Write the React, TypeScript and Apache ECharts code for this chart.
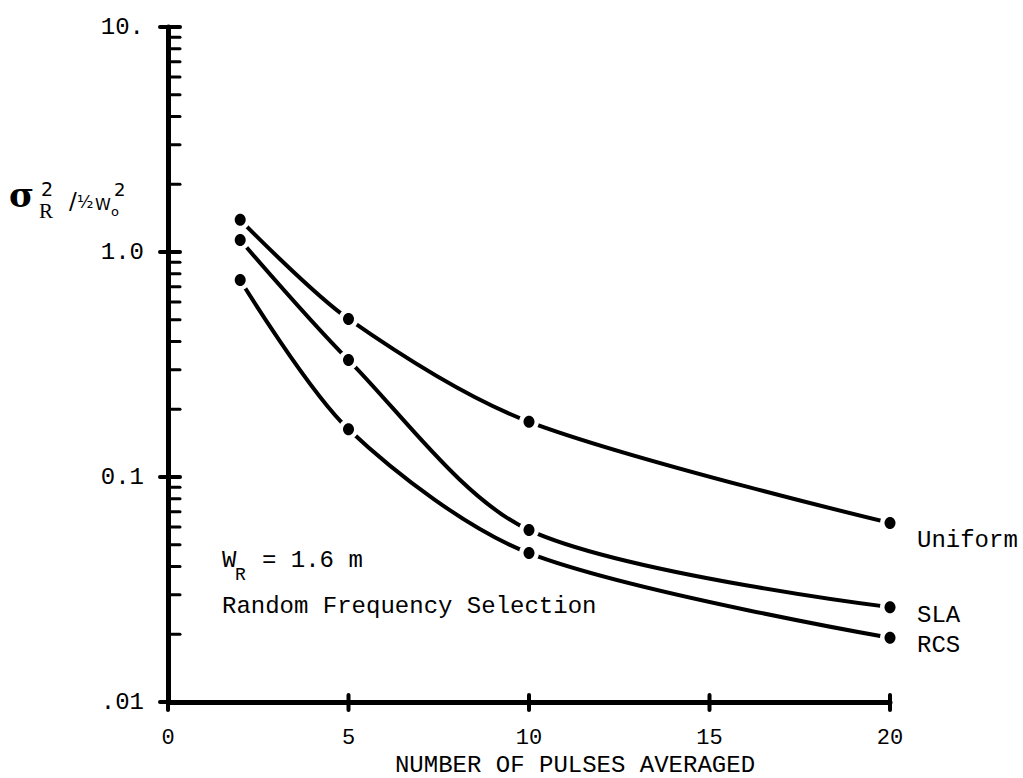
import React, { useEffect, useRef } from "react";
import * as echarts from "echarts";

// ---- data ----
const pulses = [2, 5, 10, 20];
const uniformValues = [1.39, 0.504, 0.176, 0.0625];
const slaValues = [1.13, 0.331, 0.0581, 0.0264];
const rcsValues = [0.751, 0.163, 0.0459, 0.0193];
const seriesNames = ["Uniform", "SLA", "RCS"];

// ---- axis structure ----
const xTickValues = [5, 10, 15, 20];
const yMajorValues = [0.01, 0.1, 1, 10];
const yTickLabels = [".01", "0.1", "1.0", "10."];
const minorMantissas = [2, 3, 4, 5, 6, 7, 8, 9];
const minorDecades = [0.01, 0.1, 1];

const MONO = "'Liberation Mono', 'DejaVu Sans Mono', monospace";

export default function App() {
  const ref = useRef<HTMLDivElement>(null);

  useEffect(() => {
    if (!ref.current) return;
    const chart = echarts.init(ref.current, undefined, { renderer: "svg" });

    const yMinorValues: number[] = [];
    minorDecades.forEach((d) => minorMantissas.forEach((m) => yMinorValues.push(m * d)));

    const allValues = [uniformValues, slaValues, rcsValues];
    const pairs = (vals: number[]) => pulses.map((x, j) => [x, vals[j]]);

    const lineSeries = allValues.map((vals, i) => ({
      type: "line",
      name: seriesNames[i],
      data: pairs(vals),
      smooth: 0.3,
      showSymbol: false,
      lineStyle: { color: "#000", width: 4 },
      z: 2,
      silent: true,
    }));

    // white halo + black dot, so the curve is cut around each point as in the original
    const dotSeries = allValues.map((vals, i) => ({
      type: "custom",
      name: seriesNames[i] + " points",
      data: pairs(vals),
      clip: false,
      silent: true,
      z: 10,
      renderItem: (_params: any, api: any) => {
        const p = api.coord([api.value(0), api.value(1)]);
        return {
          type: "group",
          children: [
            { type: "circle", shape: { cx: p[0], cy: p[1], r: 10 }, style: { fill: "#fff" } },
            { type: "ellipse", shape: { cx: p[0], cy: p[1], rx: 5.5, ry: 6 }, style: { fill: "#000" } },
          ],
        };
      },
    }));

    const tickSeries = (data: number[][], draw: (p: number[]) => any) => ({
      type: "custom",
      data,
      clip: false,
      silent: true,
      z: 5,
      renderItem: (_params: any, api: any) => {
        const p = api.coord([api.value(0), api.value(1)]);
        return draw(p);
      },
    });

    const option: any = {
      animation: false,
      backgroundColor: "#fff",
      grid: { left: 168, right: 133, top: 27, bottom: 76, containLabel: false, outerBoundsMode: "none" },
      xAxis: {
        type: "value",
        min: 0,
        max: 20,
        interval: 5,
        axisLine: { show: true, lineStyle: { color: "#000", width: 5 } },
        axisTick: { show: false },
        splitLine: { show: false },
        axisLabel: { color: "#000", fontFamily: MONO, fontSize: 22, margin: 25 },
      },
      yAxis: {
        type: "log",
        logBase: 10,
        min: 0.01,
        max: 10,
        axisLine: { show: true, lineStyle: { color: "#000", width: 5 } },
        axisTick: { show: false },
        splitLine: { show: false },
        minorTick: { show: false },
        axisLabel: {
          color: "#000",
          fontFamily: MONO,
          fontSize: 24,
          margin: 24,
          formatter: (v: number) => {
            const idx = Math.round(Math.log10(v)) + 2;
            return yTickLabels[idx] ?? "";
          },
        },
      },
      series: [
        ...lineSeries,
        ...dotSeries,
        tickSeries(
          yMinorValues.map((v) => [0, v]),
          (p) => ({
            type: "line",
            shape: { x1: p[0], y1: p[1], x2: p[0] + 12, y2: p[1] },
            style: { stroke: "#000", lineWidth: 3, lineCap: "round" },
          })
        ),
        tickSeries(
          yMajorValues.map((v) => [0, v]),
          (p) => ({
            type: "line",
            shape: { x1: p[0] - 8, y1: p[1], x2: p[0] + 12, y2: p[1] },
            style: { stroke: "#000", lineWidth: 4, lineCap: "round" },
          })
        ),
        tickSeries(
          [[0, 0.01], ...xTickValues.map((x) => [x, 0.01])],
          (p) => ({
            type: "line",
            shape: { x1: p[0], y1: p[1] - 7, x2: p[0], y2: p[1] + 8 },
            style: { stroke: "#000", lineWidth: 4, lineCap: "round" },
          })
        ),
      ],
      graphic: [
        // y-axis title: sigma_R^2 / 1/2 W_o^2
        { type: "text", x: 9, y: 195, style: { text: "σ", fontFamily: "'DejaVu Serif', serif", fontWeight: "bold", fontSize: 34, fill: "#000", verticalAlign: "middle" } },
        { type: "text", x: 41, y: 189, style: { text: "2", fontFamily: "'DejaVu Sans', sans-serif", fontSize: 19, fill: "#000", verticalAlign: "middle" } },
        { type: "text", x: 39, y: 211, style: { text: "R", fontFamily: "'Liberation Serif', serif", fontSize: 21, fill: "#000", verticalAlign: "middle" } },
        { type: "text", x: 69, y: 201, style: { text: "/", fontFamily: "'DejaVu Sans', sans-serif", fontSize: 23, fill: "#000", verticalAlign: "middle" } },
        { type: "text", x: 77, y: 202, style: { text: "½", fontFamily: "'DejaVu Sans', sans-serif", fontSize: 17, fill: "#000", verticalAlign: "middle" } },
        { type: "text", x: 95, y: 204, style: { text: "W", fontFamily: "'DejaVu Sans', sans-serif", fontSize: 16, fill: "#000", verticalAlign: "middle" } },
        { type: "text", x: 111, y: 211, style: { text: "o", fontFamily: "'DejaVu Sans', sans-serif", fontSize: 13, fill: "#000", verticalAlign: "middle" } },
        { type: "text", x: 114, y: 189, style: { text: "2", fontFamily: "'DejaVu Sans', sans-serif", fontSize: 18, fill: "#000", verticalAlign: "middle" } },
        // annotation
        { type: "text", x: 222, y: 560, style: { text: "W", fontFamily: MONO, fontSize: 24, fill: "#000", verticalAlign: "middle" } },
        { type: "text", x: 235, y: 575, style: { text: "R", fontFamily: MONO, fontSize: 18, fill: "#000", verticalAlign: "middle" } },
        { type: "text", x: 262, y: 560, style: { text: "= 1.6 m", fontFamily: MONO, fontSize: 24, fill: "#000", verticalAlign: "middle" } },
        { type: "text", x: 222, y: 606, style: { text: "Random Frequency Selection", fontFamily: MONO, fontSize: 24, fill: "#000", verticalAlign: "middle" } },
        // series labels
        { type: "text", x: 917, y: 540, style: { text: seriesNames[0], fontFamily: MONO, fontSize: 24, fill: "#000", verticalAlign: "middle" } },
        { type: "text", x: 917, y: 615, style: { text: seriesNames[1], fontFamily: MONO, fontSize: 24, fill: "#000", verticalAlign: "middle" } },
        { type: "text", x: 917, y: 645, style: { text: seriesNames[2], fontFamily: MONO, fontSize: 24, fill: "#000", verticalAlign: "middle" } },
        // x-axis title
        { type: "text", x: 575, y: 765, style: { text: "NUMBER OF PULSES AVERAGED", fontFamily: MONO, fontSize: 24, fill: "#000", align: "center", verticalAlign: "middle" } },
      ],
    };

    chart.setOption(option);
    return () => chart.dispose();
  }, []);

  return (
    <div
      ref={ref}
      style={{ position: "absolute", left: 0, top: 0, width: 1023, height: 778, background: "#fff" }}
    />
  );
}
